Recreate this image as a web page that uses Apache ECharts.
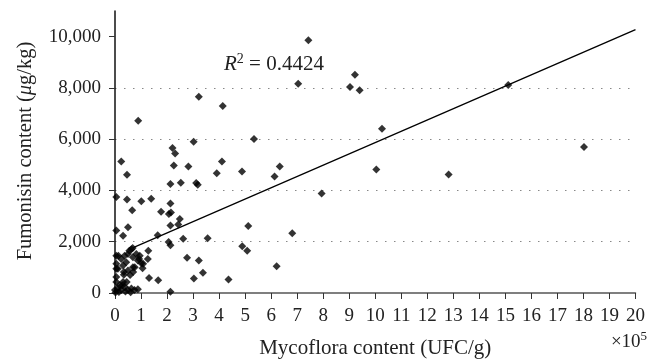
<!DOCTYPE html>
<html>
<head>
<meta charset="utf-8">
<script src="https://cdn.jsdelivr.net/npm/echarts@6/dist/echarts.min.js"></script>
<style>
  html, body { margin: 0; padding: 0; background: #fff; }
  #chart { width: 648px; height: 364px; }
</style>
</head>
<body>
<div id="chart"></div>
<script>
// mycoflora content (x 10^5 UFC/g) vs fumonisin content (ug/kg)
const mycoflora = [
  0.89, 0.24, 0.46, 0.05, 0.46, 1.01, 1.39, 0.66, 0.05, 0.50, 0.31, 0.68,
  1.77, 2.07, 2.15, 2.13, 2.13, 2.53, 2.21, 2.31, 2.26, 2.82, 3.02, 3.22,
  4.14, 5.34, 4.11, 3.91, 4.88, 3.12, 3.18, 2.49, 2.43, 2.13, 1.64, 2.62,
  2.06, 2.13, 3.56, 5.12, 4.89, 5.08, 6.13, 6.33, 6.81, 6.21, 1.28, 1.26,
  1.08, 1.06, 0.93, 2.77, 3.22, 3.38, 3.03, 4.36, 1.31, 1.66, 2.13,
  7.43, 7.04, 9.03, 9.22, 9.40, 15.11, 10.26, 18.02, 10.04, 12.82, 7.94,
  0.63, 0.50, 0.37, 0.69, 0.24, 0.05, 0.13, 0.05, 0.11, 0.31, 0.43, 0.34,
  0.50, 0.69, 0.88, 1.01, 0.95, 0.82, 0.70, 0.05, 0.34, 0.45, 0.00, 0.11,
  0.24, 0.37, 0.31, 0.50, 0.63, 0.75, 0.88, 0.05, 0.18, 0.05, 0.55, 0.76,
  0.58, 0.02, 0.15, 0.40, 0.60, 0.28
];
const fumonisin = [
  6716, 5134, 4609, 3743, 3651, 3575, 3678, 3230, 2441, 2567, 2234, 1751,
  3169, 3080, 3140, 3487, 4253, 4303, 5659, 5441, 4969, 4931, 5900, 7651,
  7291, 6004, 5134, 4674, 4739, 4291, 4226, 2885, 2670, 2632, 2249, 2119,
  1992, 1866, 2134, 2617, 1828, 1648, 4548, 4931, 2326, 1046, 1648, 1330,
  1138, 970, 1330, 1379, 1264, 793, 563, 525, 586, 498, 50,
  9858, 8161, 8034, 8517, 7904, 8111, 6410, 5697, 4816, 4625, 3881,
  1711, 1520, 1456, 1391, 1330, 1456, 1456, 1138, 946, 1073, 1199, 816,
  881, 1008, 1264, 1161, 1456, 1520, 816, 625, 716, 433, 115, 180,
  115, 241, 433, 115, 180, 115, 142, 433, 307, 946, 1650, 1000,
  700, 20, 40, 60, 30, 300
];
// fitted line end points
const trendX = [0.7, 20];
const trendY = [1768, 10272];
const yTicks = [0, 2000, 4000, 6000, 8000, 10000];
const rSquared = '0.4424';

const serif = '"Liberation Serif", "Times New Roman", serif';

const chart = echarts.init(document.getElementById('chart'), null, { renderer: 'canvas' });

const option = {
  animation: false,
  backgroundColor: '#fff',
  grid: { left: 115, right: 11, top: 11, bottom: 66 },
  xAxis: {
    type: 'value',
    min: 0,
    max: 20,
    interval: 1,
    name: 'Mycoflora content (UFC/g)',
    nameLocation: 'middle',
    nameGap: 45,
    nameTextStyle: { fontFamily: serif, fontSize: 21, color: '#222' },
    axisLine: { show: true, onZero: false, lineStyle: { color: '#555', width: 1.5 } },
    axisTick: { show: true, length: 6, inside: false, lineStyle: { color: '#333' } },
    axisLabel: { margin: 14, fontFamily: serif, fontSize: 19, color: '#222' },
    splitLine: { show: false }
  },
  yAxis: {
    type: 'value',
    min: 0,
    max: 11000,
    interval: 2000,
    axisLine: { show: true, lineStyle: { color: '#111', width: 1.5 } },
    axisTick: { show: true, length: 6, customValues: yTicks, lineStyle: { color: '#333' } },
    axisLabel: {
      customValues: yTicks,
      margin: 14,
      fontFamily: serif,
      fontSize: 19,
      color: '#222',
      formatter: v => v.toLocaleString('en-US')
    },
    splitLine: {
      show: true,
      showMinLine: false,
      showMaxLine: false,
      lineStyle: { color: '#888', type: [1.5, 7.5], width: 1 }
    }
  },
  graphic: [
    {
      type: 'text',
      rotation: Math.PI / 2,
      x: 26, y: 151,
      style: {
        text: 'Fumonisin content ({m|\u03bc}g/kg)',
        font: '20.5px ' + serif,
        fill: '#222',
        align: 'center',
        verticalAlign: 'middle',
        rich: {
          m: { fontFamily: serif, fontSize: 20.5, fontStyle: 'italic', fill: '#222' }
        }
      }
    },
    {
      type: 'text',
      x: 274, y: 64,
      style: {
        text: '{r|R}{s|2} = ' + rSquared,
        font: '21px ' + serif,
        fill: '#222',
        align: 'center',
        verticalAlign: 'middle',
        rich: {
          r: { fontFamily: serif, fontSize: 21, fontStyle: 'italic', fill: '#222' },
          s: { fontFamily: serif, fontSize: 14, fill: '#222', padding: [0, 0, 10, 0] }
        }
      }
    },
    {
      type: 'text',
      x: 629, y: 342,
      style: {
        text: '\u00d710{s|5}',
        font: '19px ' + serif,
        fill: '#222',
        align: 'center',
        verticalAlign: 'middle',
        rich: {
          s: { fontFamily: serif, fontSize: 13, fill: '#222', padding: [0, 0, 10, 0] }
        }
      }
    }
  ],
  series: [
    {
      type: 'scatter',
      symbol: 'diamond',
      symbolSize: 8,
      itemStyle: { color: '#000' },
      data: mycoflora.map((x, i) => [x, fumonisin[i]]),
      z: 3
    },
    {
      type: 'line',
      symbol: 'none',
      lineStyle: { color: '#000', width: 1.3 },
      data: trendX.map((x, i) => [x, trendY[i]]),
      z: 2
    }
  ]
};

chart.setOption(option);
</script>
</body>
</html>
